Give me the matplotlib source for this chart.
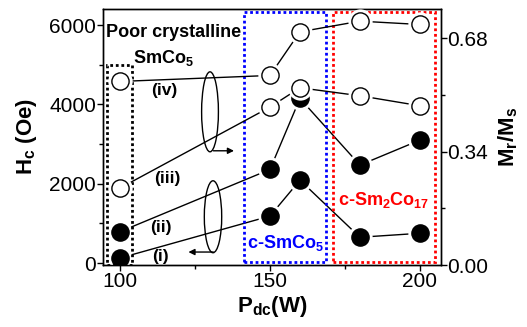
import matplotlib

matplotlib.use("Agg")

import matplotlib.pyplot as plt
from matplotlib.patches import Ellipse, Rectangle

plt.rcParams["font.family"] = ["Liberation Sans", "DejaVu Sans"]
plt.rcParams["mathtext.default"] = "regular"

# sputtering power (W)
p_dc = [100, 150, 160, 180, 200]
# coercivity, left axis (Oe)
hc_i = [126, 1184, 2090, 650, 750]
hc_ii = [790, 2360, 4150, 2470, 3100]
# remanence ratio, right axis
mr_iii = [0.231, 0.474, 0.532, 0.508, 0.478]
mr_iv = [0.551, 0.569, 0.700, 0.732, 0.722]

x_ticks = [100, 150, 200]
hc_ticks = [0, 2000, 4000, 6000]
mr_ticks = [0.00, 0.34, 0.68]

fig = plt.figure(figsize=(5.27, 3.27), dpi=100)
ax = fig.add_axes([0.1954, 0.1896, 0.6406, 0.7844])
ax2 = ax.twinx()


def draw_series(axis, y, face, z):
    axis.plot(p_dc, y, color="black", lw=1.0, zorder=z)
    axis.plot(p_dc, y, ls="none", marker="o", ms=17.5, mfc="white",
              mec="none", zorder=z + 0.1)
    axis.plot(p_dc, y, ls="none", marker="o", ms=12.4, mfc=face,
              mec="black", mew=1.0, zorder=z + 0.2)


draw_series(ax, hc_i, "black", 3)
draw_series(ax, hc_ii, "black", 3)
draw_series(ax2, mr_iii, "white", 3)
draw_series(ax2, mr_iv, "white", 3)

ax.set_xlim(94.3, 206.9)
ax.set_ylim(-50, 6420)
ax2.set_ylim(0, 0.77)

ax.set_xticks(x_ticks)
ax.set_xticks([125, 175], minor=True)
ax.set_yticks(hc_ticks)
ax.set_yticks([1000, 3000, 5000], minor=True)
ax2.set_yticks(mr_ticks)
ax2.set_yticks([0.17, 0.51], minor=True)
ax2.set_yticklabels(["%.2f" % v for v in mr_ticks])

for a in (ax, ax2):
    a.tick_params(which="major", length=4, width=1, labelsize=15, pad=1)
    a.tick_params(which="minor", length=3, width=1)
    for s in a.spines.values():
        s.set_linewidth(1.0)

ax.set_xlabel("P$_{dc}$(W)", fontsize=16, fontweight="bold", labelpad=2)
ax.set_ylabel("H$_c$ (Oe)", fontsize=16, fontweight="bold", labelpad=7)
ax2.set_ylabel("M$_r$/M$_s$", fontsize=16, fontweight="bold", labelpad=6)

# dotted region boxes
box_kw = dict(fill=False, lw=2.0, ls=(0, (1, 1)), zorder=4)
ax.add_patch(Rectangle((95.8, -50), 8.3, 5050, ec="black", **box_kw))
ax.add_patch(Rectangle((141.4, 20), 27.3, 6310, ec="#0000ff", **box_kw))
ax.add_patch(Rectangle((170.9, 20), 34.1, 6310, ec="#ff0000", **box_kw))

txt_kw = dict(fontweight="bold", ha="center", va="center")
ax.text(118.0, 5810, "Poor crystalline", fontsize=13, **txt_kw)
ax.text(114.5, 5160, "SmCo$_5$", fontsize=13, **txt_kw)
ax.text(155.3, 500, "c-SmCo$_5$", fontsize=13, color="#0000ff", **txt_kw)
ax.text(188.0, 1600, "c-Sm$_2$Co$_{17}$", fontsize=13, color="#ff0000", **txt_kw)

ax.text(114.7, 4360, "(iv)", fontsize=12.5, **txt_kw)
ax.text(115.6, 2130, "(iii)", fontsize=12.5, **txt_kw)
ax.text(113.7, 890, "(ii)", fontsize=12.5, **txt_kw)
ax.text(113.3, 160, "(i)", fontsize=12.5, **txt_kw)

# ellipses with arrows pointing to their axis
ax.add_patch(Ellipse((130.0, 3814), 5.6, 2017, fill=False, lw=1.0, zorder=6))
ax.add_patch(Ellipse((131.0, 1167), 5.8, 1815, fill=False, lw=1.0, zorder=6))
arr = dict(arrowstyle="-|>", lw=1.0, color="black", mutation_scale=9,
           shrinkA=0, shrinkB=0)
ax.annotate("", xy=(138.0, 2831), xytext=(131.1, 2831), arrowprops=arr)
ax.annotate("", xy=(122.8, 277), xytext=(131.1, 277), arrowprops=arr)

fig.savefig("out.png", dpi=100)
plt.close(fig)
